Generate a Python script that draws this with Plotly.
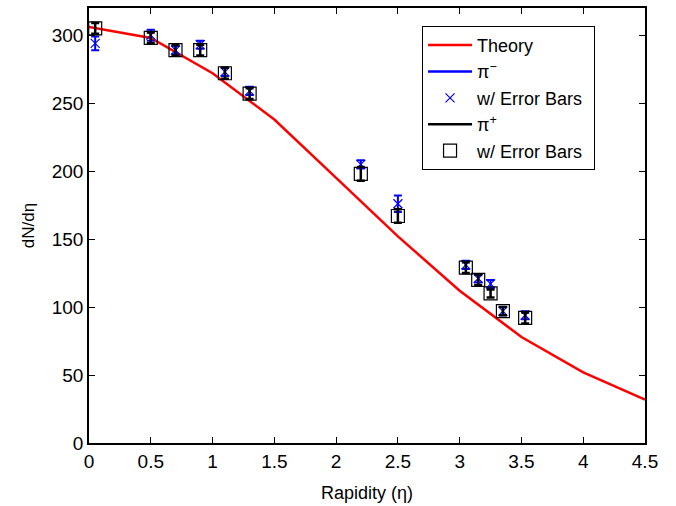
import plotly.graph_objects as go

# Theory curve
theory_eta = [0, 0.5, 1.0, 1.5, 2.0, 2.5, 3.0, 3.5, 4.0, 4.5]
theory_dn = [306, 298, 272, 238, 195, 152, 112, 78, 52, 32]

# Measured points
eta = [0.05, 0.5, 0.7, 0.9, 1.1, 1.3, 2.2, 2.5, 3.05, 3.15, 3.25, 3.35, 3.53]
pim = [294, 300, 289, 293, 273, 259, 205, 176, 131, 121, 117, 97, 94]
pim_err = [5, 4, 3, 3, 3, 3, 3, 6, 3, 3, 3, 3, 3]
pip = [305, 298, 289, 289, 272, 257, 198, 167, 129, 120, 110, 97, 92]
pip_err = [4, 4, 4, 4, 4, 4, 5, 5, 4, 4, 3, 3, 4]

x_ticks = [0, 0.5, 1, 1.5, 2, 2.5, 3, 3.5, 4, 4.5]
x_labels = ["0", "0.5", "1", "1.5", "2", "2.5", "3", "3.5", "4", "4.5"]
y_ticks = [0, 50, 100, 150, 200, 250, 300]

FONT = "Liberation Sans, Arial, sans-serif"

fig = go.Figure()
fig.add_trace(go.Scatter(x=theory_eta, y=theory_dn, mode="lines", name="Theory",
                         line=dict(color="#ff0000", width=2.5)))
# pi- line legend entry
fig.add_trace(go.Scatter(x=[None], y=[None], mode="lines", name="π<sup>−</sup>",
                         line=dict(color="#0000ff", width=2.5)))
fig.add_trace(go.Scatter(x=eta, y=pim, mode="markers", name="w/ Error Bars",
                         marker=dict(symbol="x-thin-open", size=9, color="#0000ff",
                                     line=dict(color="#0000ff", width=1.2)),
                         error_y=dict(type="data", array=pim_err, color="#0000ff",
                                      thickness=2, width=4)))
fig.add_trace(go.Scatter(x=[None], y=[None], mode="lines", name="π<sup>+</sup>",
                         line=dict(color="#000000", width=2.5)))
fig.add_trace(go.Scatter(x=eta, y=pip, mode="markers", name="w/ Error Bars ",
                         marker=dict(symbol="square-open", size=13, color="#000000",
                                     line=dict(color="#333333", width=1.2)),
                         error_y=dict(type="data", array=pip_err, color="#000000",
                                      thickness=2.5, width=4)))

fig.update_layout(
    width=676, height=506,
    margin=dict(l=89, r=31, t=6, b=62),
    paper_bgcolor="white", plot_bgcolor="white",
    font=dict(family=FONT, size=19, color="black"),
    showlegend=True,
    legend=dict(x=0.599, y=0.959, xanchor="left", yanchor="top",
                bordercolor="black", borderwidth=1, bgcolor="white",
                font=dict(family=FONT, size=18), tracegroupgap=0,
                itemwidth=44),
    xaxis=dict(range=[0, 4.5], tickvals=x_ticks, ticktext=x_labels,
               ticks="inside", ticklen=6, tickwidth=1, tickcolor="black",
               tickfont=dict(size=19),
               showline=True, linecolor="black", linewidth=1.5, mirror="ticks",
               showgrid=False, zeroline=False,
               title=dict(text="Rapidity (η)", font=dict(size=18), standoff=16)),
    yaxis=dict(range=[0, 320], tickvals=y_ticks,
               ticks="inside", ticklen=6, tickwidth=1, tickcolor="black",
               tickfont=dict(size=19),
               showline=True, linecolor="black", linewidth=1.5, mirror="ticks",
               showgrid=False, zeroline=False,
               title=dict(text="dN/dη", font=dict(size=17), standoff=13)),
)

fig.write_html("out.html")
